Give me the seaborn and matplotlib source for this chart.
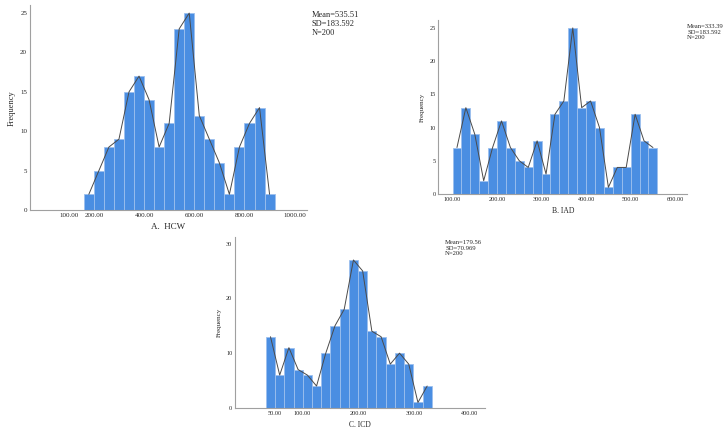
import numpy as np
import pandas as pd
import matplotlib
matplotlib.use("Agg")
import matplotlib.pyplot as plt
import seaborn as sns

# histogram counts (SPSS style panels)
hcw_start, hcw_width = 160., 40.
hcw_counts = [2, 5, 8, 9, 15, 17, 14, 8, 11, 23, 25, 12, 9, 6, 2, 8, 11, 13, 2]
hcw_ticks = [100, 200, 400, 600, 800, 1000]

iad_start, iad_width = 100., 20.
iad_counts = [7, 13, 9, 2, 7, 11, 7, 5, 4, 8, 3, 12, 14, 25, 13, 14, 10, 1,
              4, 4, 12, 8, 7]
iad_ticks = [100, 200, 300, 400, 500, 600]

icd_start, icd_width = 35., 16.5
icd_counts = [13, 6, 11, 7, 6, 4, 10, 15, 18, 27, 25, 14, 13, 8, 10, 8, 1, 4]
icd_ticks = [50, 100, 200, 300, 400]

stats_a = "Mean=535.51\nSD=183.592\nN=200"
stats_b = "Mean=333.39\nSD=183.592\nN=200"
stats_c = "Mean=179.56\nSD=70.969\nN=200"

sns.set_style("white")
plt.rcParams['font.family'] = ['Liberation Serif', 'DejaVu Serif']

bar_col = '#4a8ee2'
edge_col = '#9cc0ee'
line_col = '#4a4a4a'

fig = plt.figure(figsize=(7.28, 4.34), dpi=100)


def panel(rect, start, width, counts, ticks, xlim, ylim, yticks, xlabel,
          fs_tick, fs_lab):
    ax = fig.add_axes(rect)
    edges = start + width * np.arange(len(counts) + 1)
    df = pd.DataFrame({"x": 0.5 * (edges[:-1] + edges[1:]),
                       "n": np.array(counts, dtype=float)})
    sns.histplot(data=df, x="x", weights="n", bins=list(edges), ax=ax,
                 color=bar_col, edgecolor=edge_col, linewidth=0.6, alpha=1.)
    sns.lineplot(data=df, x="x", y="n", ax=ax, color=line_col, lw=0.7)
    ax.set_xlim(*xlim)
    ax.set_ylim(*ylim)
    ax.set_xticks(ticks)
    ax.set_xticklabels(["%.2f" % t for t in ticks])
    ax.set_yticks(yticks)
    ax.set_yticklabels([str(t) for t in yticks])
    ax.tick_params(length=0, labelsize=fs_tick, pad=2)
    for s in ['top', 'right']:
        ax.spines[s].set_visible(False)
    for s in ['left', 'bottom']:
        ax.spines[s].set_color('#a0a0a0')
        ax.spines[s].set_linewidth(0.8)
    ax.set_ylabel("Frequency", fontsize=fs_lab, labelpad=3)
    ax.set_xlabel(xlabel, fontsize=fs_lab + 0.5, labelpad=4)
    return ax


ax_a = panel([0.041, 0.516, 0.381, 0.472], hcw_start, hcw_width, hcw_counts,
             hcw_ticks, (-55, 1050), (0, 26.0), [0, 5, 10, 15, 20, 25],
             "A.  HCW", 5, 6)
ax_b = panel([0.602, 0.553, 0.342, 0.401], iad_start, iad_width, iad_counts,
             iad_ticks, (68, 627), (0, 26.2), [0, 5, 10, 15, 20, 25],
             "B. IAD", 4.5, 5)
ax_c = panel([0.323, 0.060, 0.343, 0.394], icd_start, icd_width, icd_counts,
             icd_ticks, (-20, 427), (0, 31.2), [0, 10, 20, 30],
             "C. ICD", 4.5, 5)

fig.text(312 / 728, 1 - 11 / 434, stats_a, fontsize=6, va='top', ha='left',
         linespacing=1.15)
fig.text(687 / 728, 1 - 24 / 434, stats_b, fontsize=4.8, va='top', ha='left',
         linespacing=1.15)
fig.text(445 / 728, 1 - 240 / 434, stats_c, fontsize=4.8, va='top', ha='left',
         linespacing=1.15)

fig.savefig("out.png", dpi=100)
